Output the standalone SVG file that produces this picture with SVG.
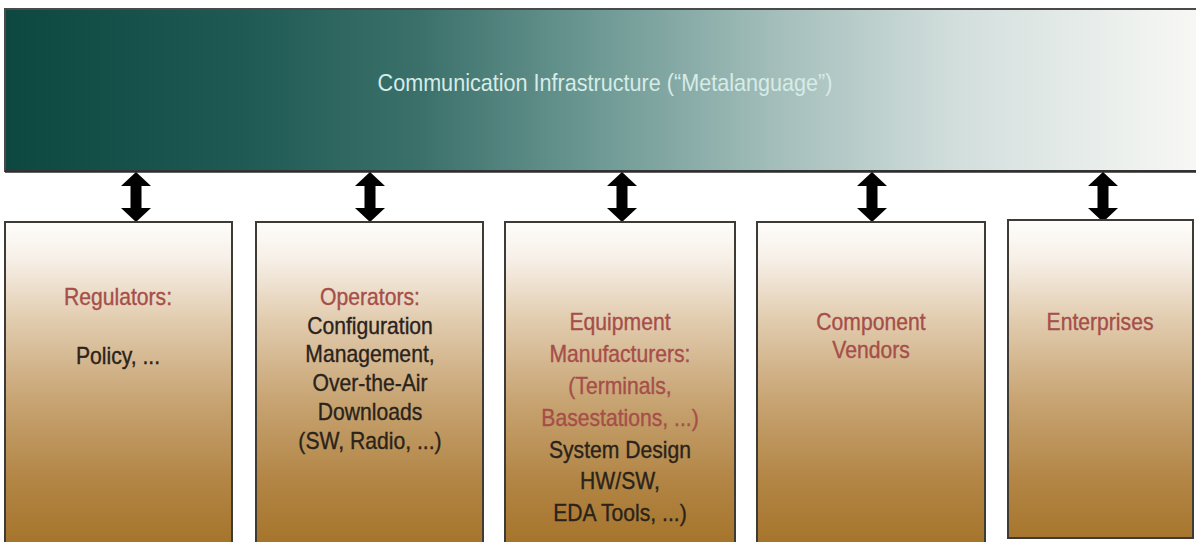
<svg xmlns="http://www.w3.org/2000/svg" width="1196" height="542" viewBox="0 0 1196 542">
<defs>
<linearGradient id="barGrad" x1="0" y1="0" x2="1" y2="0">
<stop offset="0" stop-color="#0c4740"/>
<stop offset="0.2" stop-color="#1f5a54"/>
<stop offset="0.35" stop-color="#3c716b"/>
<stop offset="0.5" stop-color="#6f9a95"/>
<stop offset="0.65" stop-color="#a5bfbc"/>
<stop offset="0.8" stop-color="#d3dfdd"/>
<stop offset="1" stop-color="#f8f8f5"/>
</linearGradient>
<linearGradient id="boxGrad" x1="0" y1="222" x2="0" y2="542" gradientUnits="userSpaceOnUse">
<stop offset="0" stop-color="#fefdfb"/>
<stop offset="0.12" stop-color="#f6efe6"/>
<stop offset="0.3" stop-color="#e2cdb0"/>
<stop offset="0.55" stop-color="#c8a574"/>
<stop offset="0.8" stop-color="#b38646"/>
<stop offset="1" stop-color="#a6752c"/>
</linearGradient>
<path id="dblArrow" d="M0,0 L15,14 L5.5,14 L5.5,36 L15,36 L0,50 L-15,36 L-5.5,36 L-5.5,14 L-15,14 Z" fill="#000"/>
<style>
.box{fill:url(#boxGrad);stroke:#3e3a36;stroke-width:2}
.t{font-family:"Liberation Sans",Arial,sans-serif;font-size:23px;text-anchor:middle;stroke-width:0.35}
.red{fill:#a64e49;stroke:#a64e49}
.dark{fill:#2a231b;stroke:#2a231b}
.title{font-family:"Liberation Sans",Arial,sans-serif;font-size:24px;text-anchor:middle;fill:#d6ece7}
</style>
</defs>
<rect width="1196" height="542" fill="#fff"/>

<g id="infrastructure">
<rect x="5" y="9" width="1195" height="162" fill="url(#barGrad)" stroke="#4a4a4a" stroke-width="2"/>
<line x1="5" y1="171.5" x2="1196" y2="171.5" stroke="#2e2e2e" stroke-width="2.5"/>
<g transform="translate(605,0) scale(0.9,1)"><text class="title" x="0" y="91">Communication Infrastructure (“Metalanguage”)</text></g>
</g>

<g id="connectors">
<use href="#dblArrow" x="136" y="172"/>
<use href="#dblArrow" x="370" y="172"/>
<use href="#dblArrow" x="622" y="172"/>
<use href="#dblArrow" x="872" y="172"/>
<use href="#dblArrow" x="1103" y="172"/>
</g>

<g id="regulators">
<rect class="box" x="5" y="222" width="227" height="330"/>
<g transform="translate(118,0) scale(0.92,1)">
<text class="t red" x="0" y="305">Regulators:</text>
<text class="t dark" x="0" y="364">Policy, ...</text>
</g>
</g>

<g id="operators">
<rect class="box" x="256" y="222" width="227" height="330"/>
<g transform="translate(370,0) scale(0.92,1)">
<text class="t red" x="0" y="305">Operators:</text>
<text class="t dark" x="0" y="334">Configuration</text>
<text class="t dark" x="0" y="362">Management,</text>
<text class="t dark" x="0" y="391">Over-the-Air</text>
<text class="t dark" x="0" y="420">Downloads</text>
<text class="t dark" x="0" y="449">(SW, Radio, ...)</text>
</g>
</g>

<g id="equipment">
<rect class="box" x="505" y="222" width="230" height="330"/>
<g transform="translate(620,0) scale(0.92,1)">
<text class="t red" x="0" y="330">Equipment</text>
<text class="t red" x="0" y="362">Manufacturers:</text>
<text class="t red" x="0" y="394">(Terminals,</text>
<text class="t red" x="0" y="426">Basestations, ...)</text>
<text class="t dark" x="0" y="458">System Design</text>
<text class="t dark" x="0" y="489">HW/SW,</text>
<text class="t dark" x="0" y="521">EDA Tools, ...)</text>
</g>
</g>

<g id="component-vendors">
<rect class="box" x="757" y="222" width="228" height="330"/>
<g transform="translate(871,0) scale(0.92,1)">
<text class="t red" x="0" y="330">Component</text>
<text class="t red" x="0" y="358">Vendors</text>
</g>
</g>

<g id="enterprises">
<rect class="box" x="1008" y="220" width="185" height="318"/>
<g transform="translate(1100,0) scale(0.92,1)">
<text class="t red" x="0" y="330">Enterprises</text>
</g>
</g>
</svg>
